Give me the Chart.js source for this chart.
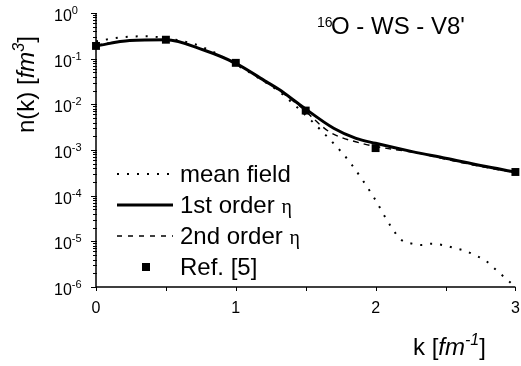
<!DOCTYPE html>
<html>
<head>
<meta charset="utf-8">
<script src="https://cdn.jsdelivr.net/npm/chart.js@4/dist/chart.umd.min.js"></script>
<style>body{margin:0;background:#fff}</style>
</head>
<body>
<canvas id="nk" width="521" height="366"></canvas>
<script>
// n(k) for 16O - WS - V8'
const kMean = [0, 0.17, 0.35, 0.5, 0.7, 0.85, 1.0, 1.15, 1.31, 1.4, 1.54, 1.62, 1.69, 1.76, 1.82, 1.98, 2.11, 2.18, 2.26, 2.33, 2.4, 2.48, 2.56, 2.64, 2.71, 2.79, 2.86, 2.94, 3.0];
const nMean = [0.24, 0.29, 0.31, 0.28, 0.21, 0.135, 0.075, 0.04, 0.019, 0.011, 0.0044, 0.0025, 0.0015, 8.7e-4, 5.2e-4, 1.0e-4, 2.1e-5, 1.1e-5, 8.9e-6, 8.3e-6, 8.9e-6, 8.3e-6, 7.2e-6, 6.2e-6, 5.0e-6, 3.7e-6, 2.4e-6, 1.45e-6, 1.0e-6];

const k1st = [0, 0.24, 0.5, 0.77, 1.0, 1.22, 1.31, 1.46, 1.7, 1.86, 2.0, 2.27, 2.5, 2.76, 3.0];
const n1st = [0.19, 0.25, 0.26, 0.155, 0.079, 0.031, 0.021, 0.0097, 0.003, 0.0018, 0.0014, 9.1e-4, 6.6e-4, 4.5e-4, 3.3e-4];

const k2nd = [0, 0.24, 0.5, 0.77, 1.0, 1.22, 1.31, 1.46, 1.67, 1.9, 2.07, 2.29, 2.5, 2.76, 3.0];
const n2nd = [0.2, 0.25, 0.26, 0.155, 0.078, 0.03, 0.02, 0.009, 0.0025, 0.0014, 0.0011, 8.7e-4, 6.3e-4, 4.3e-4, 3.2e-4];

const kRef = [0, 0.5, 1, 1.5, 2, 3];
const nRef = [0.19, 0.26, 0.081, 0.0073, 0.0011, 3.3e-4];

const xTicks = [0, 0.5, 1, 1.5, 2, 2.5, 3];
const xLabels = [0, 1, 2, 3];
const yPowers = [0, -1, -2, -3, -4, -5, -6];

const FONT = '"Liberation Sans", Arial, sans-serif';
const SERIF = '"Liberation Serif", "DejaVu Serif", serif';

function pts(ks, ns) {
    return ks.map((k, i) => ({x: k, y: ns[i]}));
}

// draw a run of text pieces, some italic, raised or serif
function rich(ctx, parts, x, y, size) {
    let cx = x;
    parts.forEach(p => {
        const s = p.sup ? Math.round(size * 0.66) : (p.size || size);
        ctx.font = (p.it ? 'italic ' : '') + s + 'px ' + (p.serif ? SERIF : FONT);
        ctx.fillText(p.t, cx, p.sup ? y - size * 0.42 : y);
        cx += ctx.measureText(p.t).width;
    });
    return cx;
}

const decor = {
    id: 'decor',
    afterDraw(chart) {
        const {ctx, chartArea: a, scales: {x, y}} = chart;
        ctx.save();
        ctx.strokeStyle = '#000';
        ctx.fillStyle = '#000';
        ctx.lineWidth = 1.5;
        ctx.setLineDash([]);

        // axes
        ctx.beginPath();
        ctx.moveTo(a.left, a.top);
        ctx.lineTo(a.left, a.bottom);
        ctx.lineTo(a.right, a.bottom);
        ctx.stroke();

        // y ticks
        ctx.lineWidth = 1;
        yPowers.forEach(p => {
            const py = Math.round(y.getPixelForValue(Math.pow(10, p))) + 0.5;
            ctx.beginPath();
            ctx.moveTo(a.left - 5, py);
            ctx.lineTo(a.left + 1, py);
            ctx.stroke();
            if (p > -6) {
                for (let m = 2; m < 10; m++) {
                    const my = Math.round(y.getPixelForValue(m * Math.pow(10, p - 1))) + 0.5;
                    ctx.beginPath();
                    ctx.moveTo(a.left - 3, my);
                    ctx.lineTo(a.left + 1, my);
                    ctx.stroke();
                }
            }
            ctx.textBaseline = 'alphabetic';
            ctx.textAlign = 'left';
            rich(ctx, [{t: '10'}, {t: String(p), sup: true}], 54, py + 7, 16);
        });

        // x ticks
        xTicks.forEach(t => {
            const px = Math.round(x.getPixelForValue(t)) + 0.5;
            ctx.beginPath();
            ctx.moveTo(px, a.bottom);
            ctx.lineTo(px, a.bottom + 4);
            ctx.stroke();
        });
        ctx.font = '16px ' + FONT;
        ctx.textAlign = 'center';
        xLabels.forEach(t => {
            ctx.fillText(String(t), x.getPixelForValue(t), 313);
        });

        // titles
        ctx.textAlign = 'left';
        rich(ctx, [{t: 'k ['}, {t: 'fm', it: true}, {t: '-1', it: true, sup: true}, {t: ']'}], 413, 355, 24);

        ctx.save();
        ctx.translate(34, 133);
        ctx.rotate(-Math.PI / 2);
        rich(ctx, [{t: 'n(k) ['}, {t: 'fm', it: true}, {t: '3', it: true, sup: true}, {t: ']'}], 0, 0, 24);
        ctx.restore();

        ctx.font = '14px ' + FONT;
        ctx.fillText('16', 317, 27);
        ctx.font = '24px ' + FONT;
        ctx.fillText("O - WS - V8'", 331, 34);

        // legend
        const lx0 = 117, lx1 = 173, tx = 180;
        const eta = {t: 'η', serif: true, size: 20};
        const rows = [
            {parts: [{t: 'mean field'}], dash: [2, 8], w: 2, ly: 174, ty: 182},
            {parts: [{t: '1st order '}, eta], dash: [], w: 3, ly: 205, ty: 213},
            {parts: [{t: '2nd order '}, eta], dash: [5, 6], w: 1.4, ly: 236, ty: 244},
            {parts: [{t: 'Ref. [5]'}], mark: true, ly: 267, ty: 275}
        ];
        rows.forEach(r => {
            if (r.mark) {
                ctx.fillRect(142, r.ly - 4, 8, 8);
            } else {
                ctx.lineWidth = r.w;
                ctx.setLineDash(r.dash);
                ctx.beginPath();
                ctx.moveTo(lx0, r.ly);
                ctx.lineTo(lx1, r.ly);
                ctx.stroke();
                ctx.setLineDash([]);
            }
            rich(ctx, r.parts, tx, r.ty, 24);
        });
        ctx.restore();
    }
};

new Chart('nk', {
    type: 'line',
    data: {
        datasets: [
            {
                label: 'Ref. [5]',
                data: pts(kRef, nRef),
                showLine: false,
                pointStyle: 'rect',
                pointRadius: 5.6,
                backgroundColor: '#000',
                borderColor: '#000',
                borderWidth: 0,
                clip: false
            },
            {
                label: '1st order',
                data: pts(k1st, n1st),
                borderColor: '#000',
                borderWidth: 3,
                pointRadius: 0,
                cubicInterpolationMode: 'monotone'
            },
            {
                label: '2nd order',
                data: pts(k2nd, n2nd),
                borderColor: '#000',
                borderWidth: 1.4,
                borderDash: [6, 5],
                pointRadius: 0,
                cubicInterpolationMode: 'monotone'
            },
            {
                label: 'mean field',
                data: pts(kMean, nMean),
                borderColor: '#000',
                borderWidth: 2,
                borderDash: [2, 8],
                pointRadius: 0,
                cubicInterpolationMode: 'monotone'
            }
        ]
    },
    options: {
        responsive: false,
        animation: false,
        devicePixelRatio: 1,
        layout: {padding: {left: 96, top: 13, right: 4, bottom: 79}},
        plugins: {legend: {display: false}, tooltip: {enabled: false}},
        scales: {
            x: {type: 'linear', min: 0, max: 3, display: false},
            y: {type: 'logarithmic', min: 1e-6, max: 1, display: false}
        }
    },
    plugins: [decor]
});
</script>
</body>
</html>
